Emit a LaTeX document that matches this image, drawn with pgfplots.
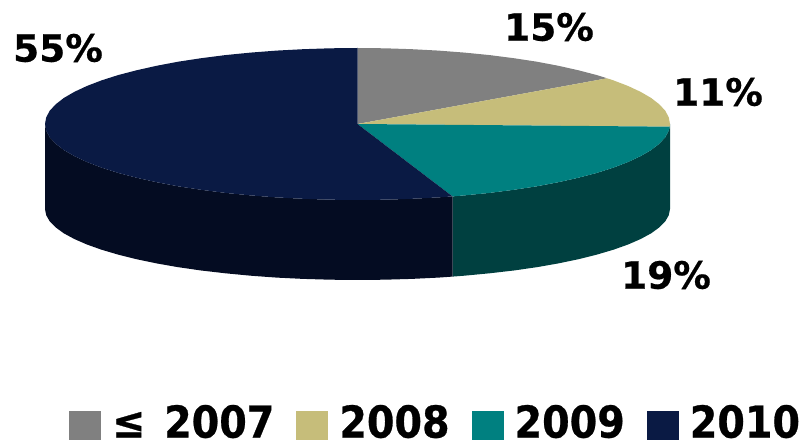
\documentclass[border=0pt]{standalone}
\usepackage{pgfplots}
\pgfplotsset{compat=1.18}
\usepackage{fontspec}
\setmainfont{DejaVu Sans}[BoldFeatures={FakeBold=0.6}]
\newfontfamily\legendfont{DejaVu Sans}[FakeStretch=0.9,BoldFeatures={FakeBold=0.6}]
\definecolor{cgray}{HTML}{808080}
\definecolor{ckhaki}{HTML}{C6BD7A}
\definecolor{cteal}{HTML}{008080}
\definecolor{cnavy}{HTML}{0A1A44}
\definecolor{cteald}{HTML}{004040}
\definecolor{cnavyd}{HTML}{040C22}
\begin{document}
\begin{tikzpicture}
\begin{axis}[
  scale only axis,
  width=806pt, height=443pt,
  xmin=0, xmax=806, ymin=0, ymax=443,
  y dir=reverse,
  axis lines=none,
  clip=false,
  legend columns=4,
  legend style={draw=none, fill=none, at={(axis cs:69,422)}, anchor=west,
    inner sep=0pt, font=\legendfont\bfseries\fontsize{44}{44}\selectfont,
    /tikz/every even column/.append style={column sep=20pt},
    /tikz/every odd column/.append style={column sep=9pt},
    cells={anchor=west}},
  legend image code/.code={\fill[#1] (0pt,-18pt) rectangle (32pt,11pt);},
]
% sides
\addplot[fill=cteald, draw=none, forget plot] coordinates {
  (670,124) (669.8,126.7) (668.8,130.6) (665.3,137.2) (659.3,143.7) (651.2,150) (640.7,156.1)
  (628.1,162) (613.5,167.6) (596.9,172.9) (578.5,177.7) (558.4,182.2) (536.8,186.3)
  (513.8,189.8) (489.6,192.9) (464.4,195.4) (452.5,196.4)
  (452.5,276.6) (464.4,275.7) (489.6,273.3) (513.8,270.5) (536.8,267.2) (558.4,263.4)
  (578.5,259.2) (596.9,254.6) (613.5,249.7) (628.1,244.5) (640.7,239) (651.2,233.3)
  (659.3,227.4) (665.3,221.3) (668.8,215.2) (670,209)
};
\addplot[fill=cnavyd, draw=none, forget plot] coordinates {
  (452.5,196.4) (438.4,197.4) (411.8,198.8) (384.8,199.7) (357.5,200) (330.2,199.7) (303.2,198.8)
  (276.6,197.4) (250.6,195.4) (225.4,192.9) (201.2,189.8) (178.2,186.3) (156.6,182.2)
  (136.5,177.7) (118.1,172.9) (101.5,167.6) (86.9,162) (74.3,156.1) (63.8,150) (55.7,143.7)
  (49.7,137.2) (46.2,130.6) (45,124)
  (45,209) (46.2,215.2) (49.7,221.3) (55.7,227.4) (63.8,233.3) (74.3,239) (86.9,244.5)
  (101.5,249.7) (118.1,254.6) (136.5,259.2) (156.6,263.4) (178.2,267.2) (201.2,270.5)
  (225.4,273.3) (250.6,275.7) (276.6,277.6) (303.2,278.9) (330.2,279.7) (357.5,280)
  (384.8,279.7) (411.8,278.9) (438.4,277.6) (452.5,276.6)
};
% top slices
\addplot[fill=cgray, draw=none] coordinates {
  (357.5,124) (357.5,48) (384.8,48.3) (411.8,49.2) (438.4,50.6) (464.4,52.6) (489.6,55.1)
  (513.8,58.2) (536.8,61.7) (558.4,65.8) (578.5,70.3) (596.9,75.1) (607.1,78.3)
};
\addlegendentry{≤\hspace{5pt} 2007}
\addplot[fill=ckhaki, draw=none] coordinates {
  (357.5,124) (607.1,78.3) (613.5,80.4) (628.1,86) (640.7,91.9) (651.2,98) (659.3,104.3)
  (665.3,110.8) (668.8,117.4) (670,124) (669.8,126.7)
};
\addlegendentry{2008}
\addplot[fill=cteal, draw=none] coordinates {
  (357.5,124) (669.8,126.7) (668.8,130.6) (665.3,137.2) (659.3,143.7) (651.2,150) (640.7,156.1)
  (628.1,162) (613.5,167.6) (596.9,172.9) (578.5,177.7) (558.4,182.2) (536.8,186.3)
  (513.8,189.8) (489.6,192.9) (464.4,195.4) (452.5,196.4)
};
\addlegendentry{2009}
\addplot[fill=cnavy, draw=none] coordinates {
  (357.5,124) (452.5,196.4) (438.4,197.4) (411.8,198.8) (384.8,199.7) (357.5,200) (330.2,199.7)
  (303.2,198.8) (276.6,197.4) (250.6,195.4) (225.4,192.9) (201.2,189.8) (178.2,186.3)
  (156.6,182.2) (136.5,177.7) (118.1,172.9) (101.5,167.6) (86.9,162) (74.3,156.1) (63.8,150)
  (55.7,143.7) (49.7,137.2) (46.2,130.6) (45,124) (46.2,117.4) (49.7,110.8) (55.7,104.3)
  (63.8,98) (74.3,91.9) (86.9,86) (101.5,80.4) (118.1,75.1) (136.5,70.3) (156.6,65.8)
  (178.2,61.7) (201.2,58.2) (225.4,55.1) (250.6,52.6) (276.6,50.6) (303.2,49.2) (330.2,48.3)
  (357.5,48)
};
\addlegendentry{2010}
% value labels
\begin{scope}[every node/.style={font=\bfseries\fontsize{37.5}{37.5}\selectfont, inner sep=0pt}]
\node at (axis cs:549,27) {15\%};
\node at (axis cs:718,92) {11\%};
\node at (axis cs:666,275) {19\%};
\node at (axis cs:58,48) {55\%};
\end{scope}
\end{axis}
\pgfresetboundingbox
\path[use as bounding box] (0,0) rectangle (806pt,443pt);
\end{tikzpicture}
\end{document}
